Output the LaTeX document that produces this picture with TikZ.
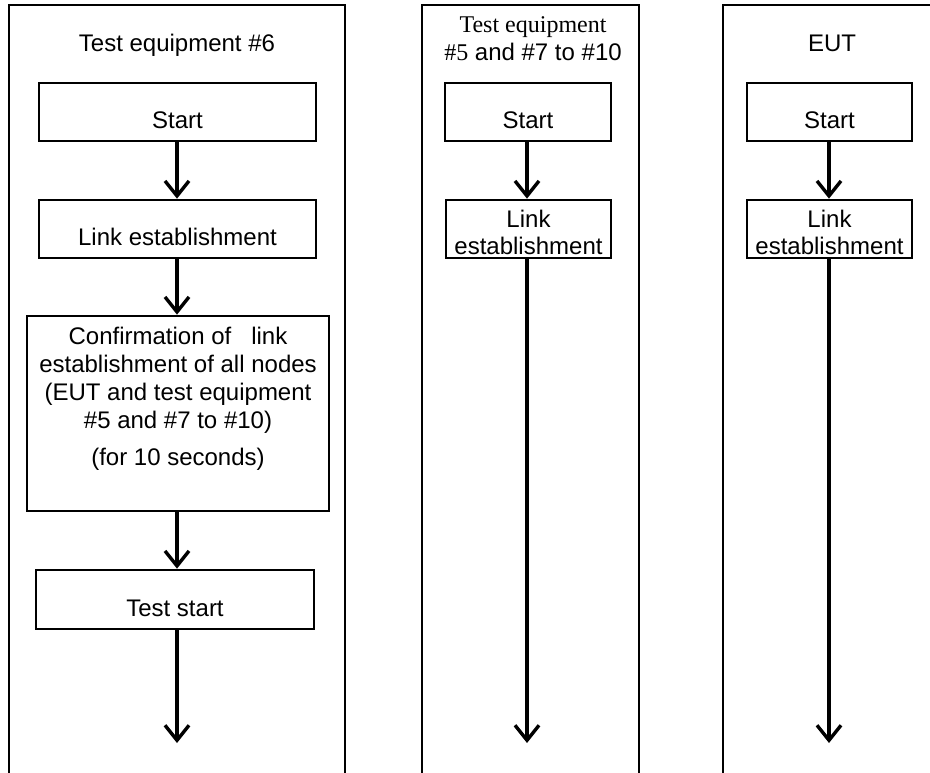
\documentclass[tikz,border=0pt]{standalone}
\usepackage{fontspec}
\setmainfont{Liberation Sans}
\newfontfamily\timesfont{Liberation Serif}
\usetikzlibrary{arrows.meta}

\begin{document}
\begin{tikzpicture}[x=1pt,y=-1pt,
  every node/.style={font=\fontsize{24}{27}\selectfont, inner sep=0pt},
  lane/.style={line width=2.7pt},
  box/.style={draw, line width=2.7pt, minimum height=58pt, text height=33pt, text depth=0pt},
  box2/.style={draw, line width=2.7pt, minimum height=58pt, align=center},
  flow/.style={line width=3.4pt, -{Straight Barb[length=15pt,width=24pt]}},
]
\clip (0,0) rectangle (930,773);
\fill[white] (0,0) rectangle (930,773);

% swimlanes, open at the bottom
\draw[lane] (9,790) -- (9,5) -- (345,5) -- (345,790);
\draw[lane] (422,790) -- (422,5) -- (639,5) -- (639,790);
\draw[lane] (723,790) -- (723,5) -- (945,5) -- (945,790);

% lane headings
\node[anchor=base] (title6) at (177,52) {Test equipment \#6};
\node[anchor=north, align=center, font=\fontsize{24}{28}\selectfont] (title5) at (533,16)
  {{\timesfont Test equipment}\\{\timesfont\#5} and \#7 to \#10};
\node[anchor=base] (titleeut) at (832,52) {EUT};

% test equipment #6
\node[box, minimum width=277pt] (start6) at (177.5,112) {Start};
\node[box, minimum width=277pt] (link6) at (177.5,229) {Link establishment};
\node[draw, line width=2.7pt, minimum width=302pt, minimum height=195pt] (conf6) at (178,413.5) {};
\node[anchor=north, align=center, font=\fontsize{24}{28}\selectfont] (conf6text) at (178,327)
  {Confirmation of~~~link\\establishment of all nodes\\(EUT and test equipment\\\#5 and \#7 to \#10)\\[9pt](for 10 seconds)};
\node[box, minimum width=278pt, minimum height=59pt] (test6) at (175,599.5) {Test start};
\coordinate (end6) at (177,743);

\draw[flow] (start6.south -| end6) -- (link6.north -| end6);
\draw[flow] (link6.south -| end6) -- (conf6.north -| end6);
\draw[flow] (conf6.south -| end6) -- (test6.north -| end6);
\draw[flow] (test6.south -| end6) -- (end6);

% test equipment #5 and #7 to #10
\node[box, minimum width=166pt] (start5) at (528,112) {Start};
\node[box2, minimum width=165pt] (link5) at (528.5,229) {};
\node[anchor=north, align=center] (link5text) at (528.5,210) {Link\\establishment};
\coordinate (end5) at (527,743);
\draw[flow] (start5.south -| end5) -- (link5.north -| end5);
\draw[flow] (link5.south -| end5) -- (end5);

% EUT
\node[box, minimum width=165pt] (starteut) at (829.5,112) {Start};
\node[box2, minimum width=165pt] (linkeut) at (829.5,229) {};
\node[anchor=north, align=center] (linkeuttext) at (829.5,210) {Link\\establishment};
\coordinate (endeut) at (829,743);
\draw[flow] (starteut.south -| endeut) -- (linkeut.north -| endeut);
\draw[flow] (linkeut.south -| endeut) -- (endeut);
\end{tikzpicture}
\end{document}
